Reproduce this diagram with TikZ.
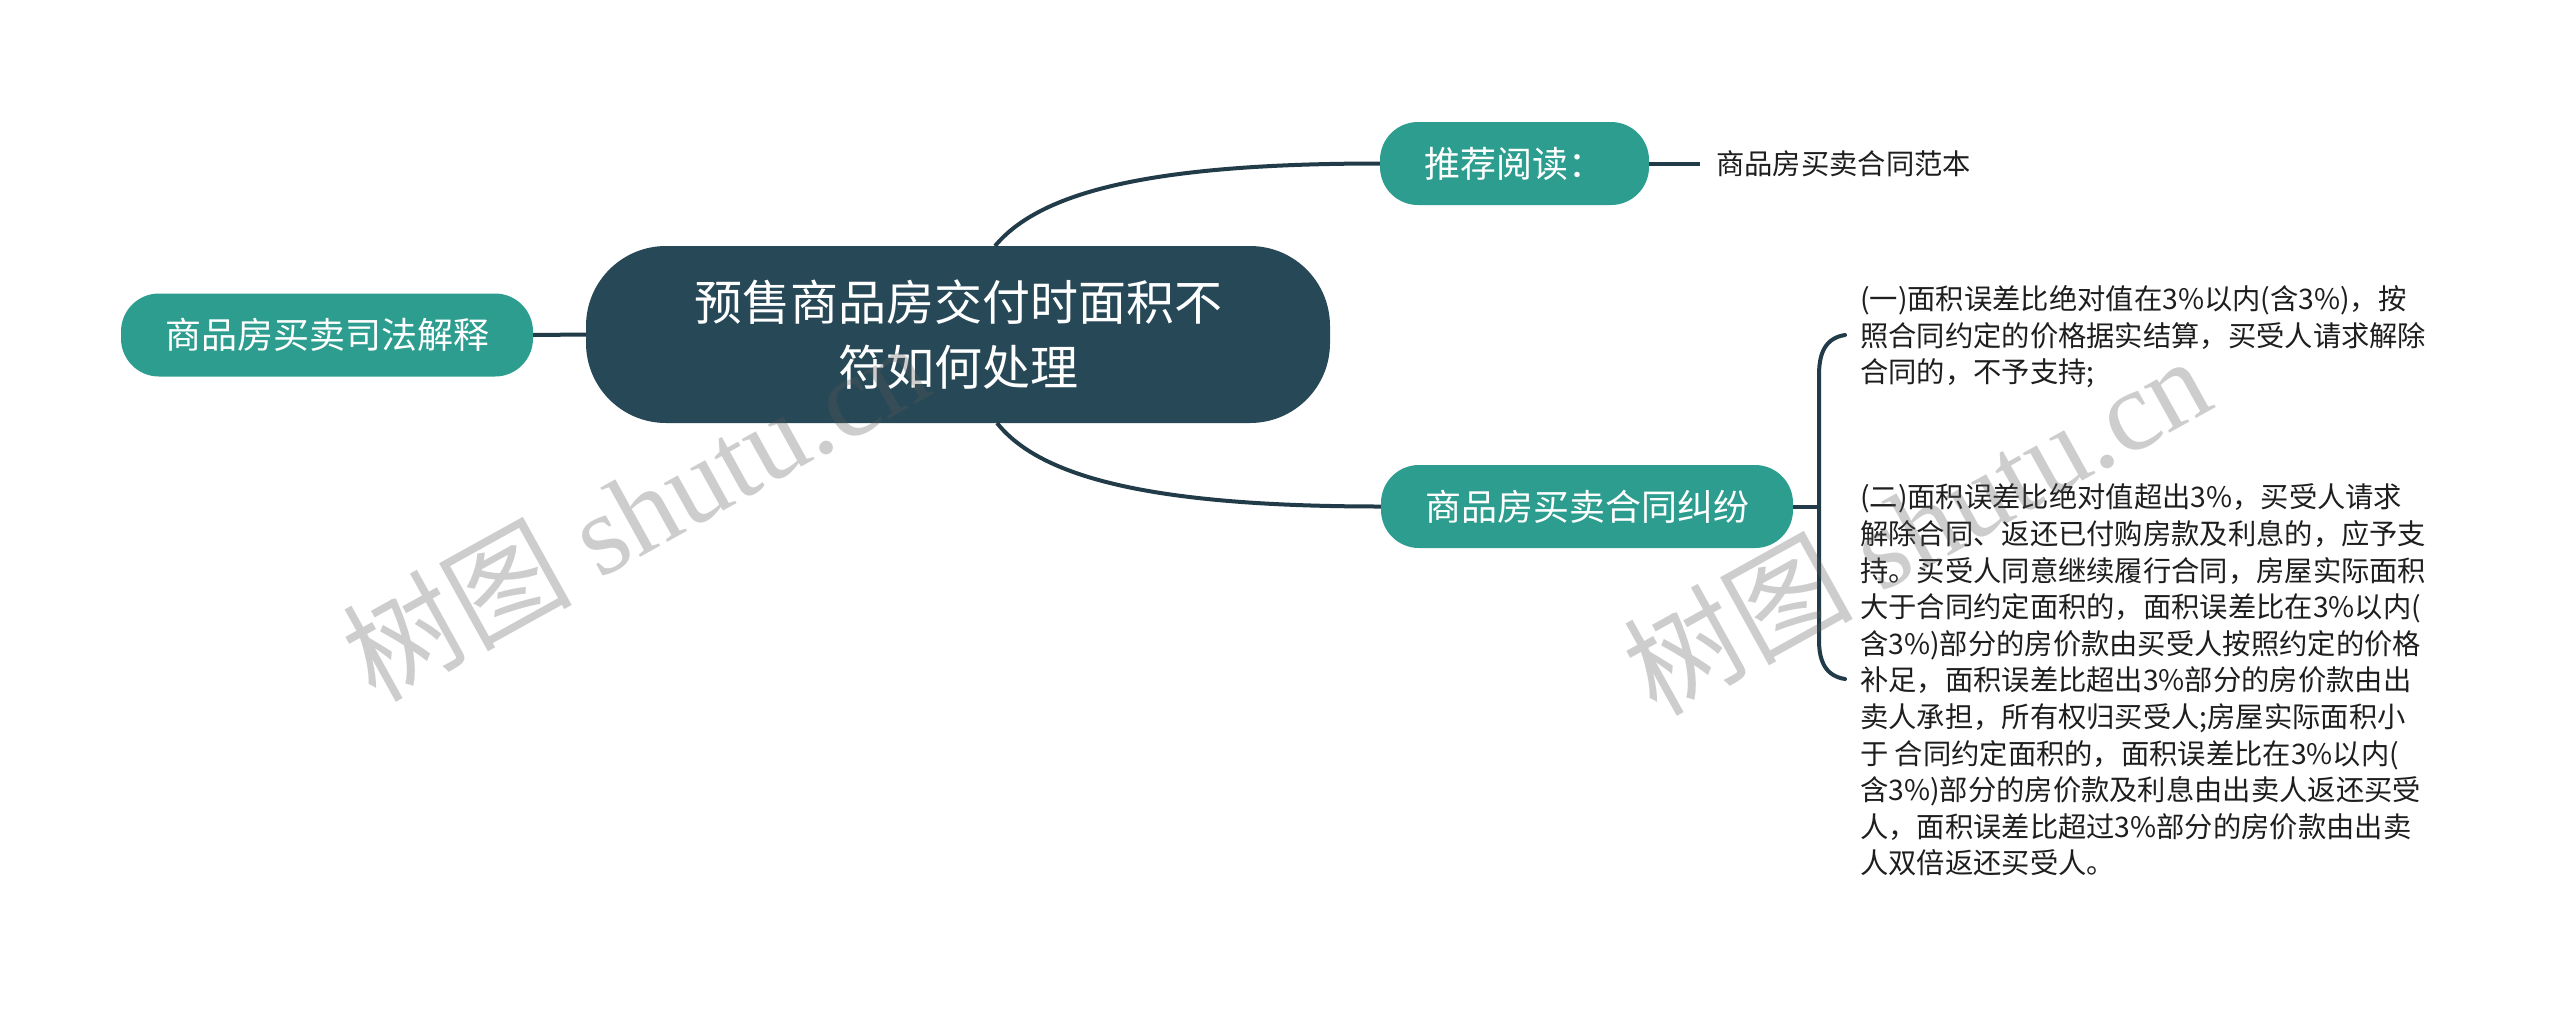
\documentclass[tikz,border=0pt]{standalone}
\usepackage{fontspec}
\setmainfont{Noto Sans CJK SC}
\newfontfamily\wmserif{Liberation Serif}
\usetikzlibrary{calc}
\definecolor{rootfill}{RGB}{39,72,86}
\definecolor{mainteal}{RGB}{44,157,142}
\definecolor{linec}{RGB}{33,60,72}
\definecolor{txtc}{RGB}{30,30,30}
\definecolor{wmc}{RGB}{90,90,90}
\begin{document}
\begin{tikzpicture}[x=1pt,y=-1pt,
  rootbox/.style={fill=rootfill, rounded corners=80pt, minimum width=744pt, minimum height=177pt, text=white, align=center, font=\fontsize{48}{65}\selectfont, inner sep=0pt},
  subbox/.style={fill=mainteal, rounded corners=38pt, minimum height=83pt, text=white, font=\fontsize{36}{44}\selectfont, inner sep=0pt},
  leaftext/.style={text=txtc, font=\fontsize{28.3}{36.6}\selectfont, inner sep=0pt, align=left},
  link/.style={draw=linec, line width=4pt},
  wmtext/.style={text=wmc, opacity=0.3, rotate=29, inner sep=0pt, font=\fontsize{115}{130}\selectfont}
]
\useasboundingbox[fill=white] (0,0) rectangle (2560,1013);

% nodes
\node[rootbox] (root) at (958,334.5) {预售商品房交付时面积不\\符如何处理};
\node[subbox, minimum width=412pt] (law) at (327,335) {商品房买卖司法解释};
\node[subbox, minimum width=269pt] (rec) at (1514.5,163.5) {推荐阅读：};
\node[subbox, minimum width=412pt] (dispute) at (1587,506.5) {商品房买卖合同纠纷};
\node[leaftext, anchor=west] (leaf) at (1716,164) {商品房买卖合同范本};
\node[leaftext, anchor=west] (t1) at (1860,337) {(一)面积误差比绝对值在3\%以内(含3\%)，按\\照合同约定的价格据实结算，买受人请求解除\\合同的，不予支持;};
\node[leaftext, anchor=west] (t2) at (1860,680) {(二)面积误差比绝对值超出3\%，买受人请求\\解除合同、返还已付购房款及利息的，应予支\\持。买受人同意继续履行合同，房屋实际面积\\大于合同约定面积的，面积误差比在3\%以内(\\含3\%)部分的房价款由买受人按照约定的价格\\补足，面积误差比超出3\%部分的房价款由出\\卖人承担，所有权归买受人;房屋实际面积小\\于 合同约定面积的，面积误差比在3\%以内(\\含3\%)部分的房价款及利息由出卖人返还买受\\人，面积误差比超过3\%部分的房价款由出卖\\人双倍返还买受人。};

% connectors
\coordinate (rtop) at (995,246);
\coordinate (rbot) at (997,423);
\coordinate (bmid) at (1819,506.5);
\coordinate (btop) at (1845,335);
\coordinate (bbot) at (1845,679);
\coordinate (leafin) at (1700,163.5);

\draw[link] (law.east) -- (root.west);
\draw[link] (rtop) .. controls (1040,192) and (1150,163.5) .. (rec.west);
\draw[link] (rbot) .. controls (1040,477) and (1150,506.5) .. (dispute.west);
\draw[link] (rec.east) -- (leafin);
\draw[link] (dispute.east) -- (bmid);
\draw[link, line cap=round] (btop) .. controls (1826,338) and (1819,352) .. (1819,375) -- (1819,640) .. controls (1819,662) and (1826,676) .. (bbot);

% watermarks
\node[wmtext] (wm1) at (635,510) {树图 {\wmserif shutu.cn}};
\node[wmtext] (wm2) at (1916,524) {树图 {\wmserif shutu.cn}};
\end{tikzpicture}
\end{document}
